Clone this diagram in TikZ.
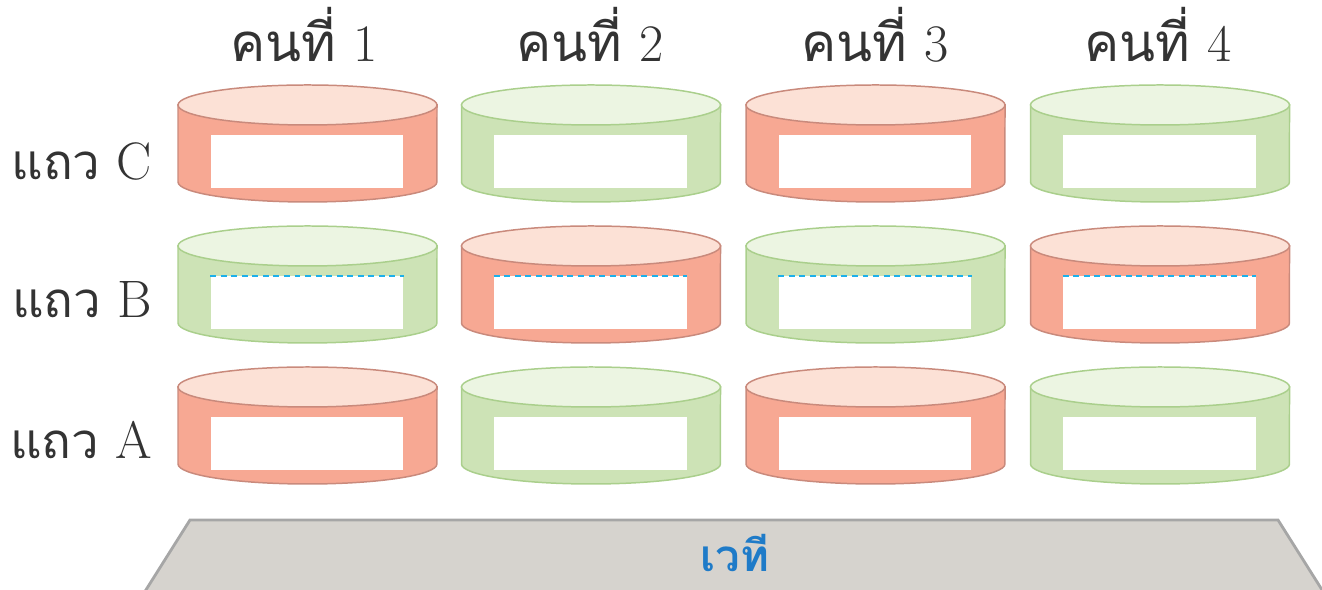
\documentclass[tikz,border=0pt]{standalone}
\usepackage{fontspec}
\newfontfamily\thaifont[Script=Thai]{Loma}
\definecolor{redside}{HTML}{F7A893}
\definecolor{redtop}{HTML}{FCE1D6}
\definecolor{rededge}{HTML}{C98A7C}
\definecolor{greenside}{HTML}{CDE3B6}
\definecolor{greentop}{HTML}{ECF5E2}
\definecolor{greenedge}{HTML}{AACF8C}
\definecolor{dashblue}{HTML}{1CB0EA}
\definecolor{stagefill}{HTML}{D6D3CE}
\definecolor{stageedge}{HTML}{A6A6A6}
\definecolor{stageblue}{HTML}{1F7BC8}
\tikzset{
  sidered/.style={fill=redside,draw=rededge,line width=0.85pt},
  sidegreen/.style={fill=greenside,draw=greenedge,line width=0.85pt},
  topred/.style={fill=redtop,draw=rededge,line width=0.85pt},
  topgreen/.style={fill=greentop,draw=greenedge,line width=0.85pt},
  slot/.style={fill=white,draw=none,minimum width=3.86cm,minimum height=1.06cm,inner sep=0pt},
  dashtop/.style={draw=dashblue,line width=1.1pt,dash pattern=on 3.4pt off 2.6pt},
  collabel/.style={anchor=base,font=\fontsize{30}{34}\selectfont,text=black!80,inner sep=0pt},
  rowlabel/.style={anchor=base east,font=\fontsize{30}{34}\selectfont,text=black!80,inner sep=0pt},
  stagelabel/.style={font=\fontsize{25}{29}\selectfont\bfseries,text=stageblue,inner sep=0pt},
}
\begin{document}
\begin{tikzpicture}[x=0.02cm,y=0.02cm]
\useasboundingbox (0,0) rectangle (1322,590);
% stage
\fill[stagefill] (190,70) -- (1278,70) -- (1324,-3) -- (144,-3) -- cycle;
\draw[stageedge,line width=1.6pt] (144,-3) -- (190,70) -- (1278,70) -- (1324,-3);
\node[stagelabel] (stage) at (735,37) {\thaifont เวที};
% cylinders
\foreach \Yt/\r/\ri in {485/C/0,344/B/1,203/A/2}{
  \foreach \cx/\n in {307.5/1,591/2,875.5/3,1160/4}{
    \pgfmathtruncatemacro\pc{mod(\n-1+\ri,2)}
    \ifnum\pc=0 \def\kind{red}\else\def\kind{green}\fi
    \draw[side\kind] (\cx-129.5,\Yt) -- (\cx-129.5,\Yt-77)
      arc[start angle=180,end angle=360,x radius=2.59cm,y radius=0.4cm]
      -- (\cx+129.5,\Yt) -- cycle;
    \draw[top\kind] (\cx,\Yt) ellipse [x radius=2.59cm,y radius=0.4cm];
    \node[slot] (slot\r\n) at (\cx-0.5,\Yt-56.5) {};
    \ifnum\ri=1
      \draw[dashtop] (slot\r\n.north west) -- (slot\r\n.north east);
    \fi
  }
}
% column labels
\node[collabel] (col1) at (304,528) {\thaifont คนที่\ \rmfamily 1};
\node[collabel] (col2) at (590,528) {\thaifont คนที่\ \rmfamily 2};
\node[collabel] (col3) at (875,528) {\thaifont คนที่\ \rmfamily 3};
\node[collabel] (col4) at (1158,528) {\thaifont คนที่\ \rmfamily 4};
% row labels
\node[rowlabel] (rowC) at (152,410) {{\thaifont\fontsize{28}{32}\selectfont แถว}\ \rmfamily C};
\node[rowlabel] (rowB) at (152,272) {{\thaifont\fontsize{28}{32}\selectfont แถว}\ \rmfamily B};
\node[rowlabel] (rowA) at (152,131) {{\thaifont\fontsize{28}{32}\selectfont แถว}\ \rmfamily A};
\end{tikzpicture}
\end{document}
